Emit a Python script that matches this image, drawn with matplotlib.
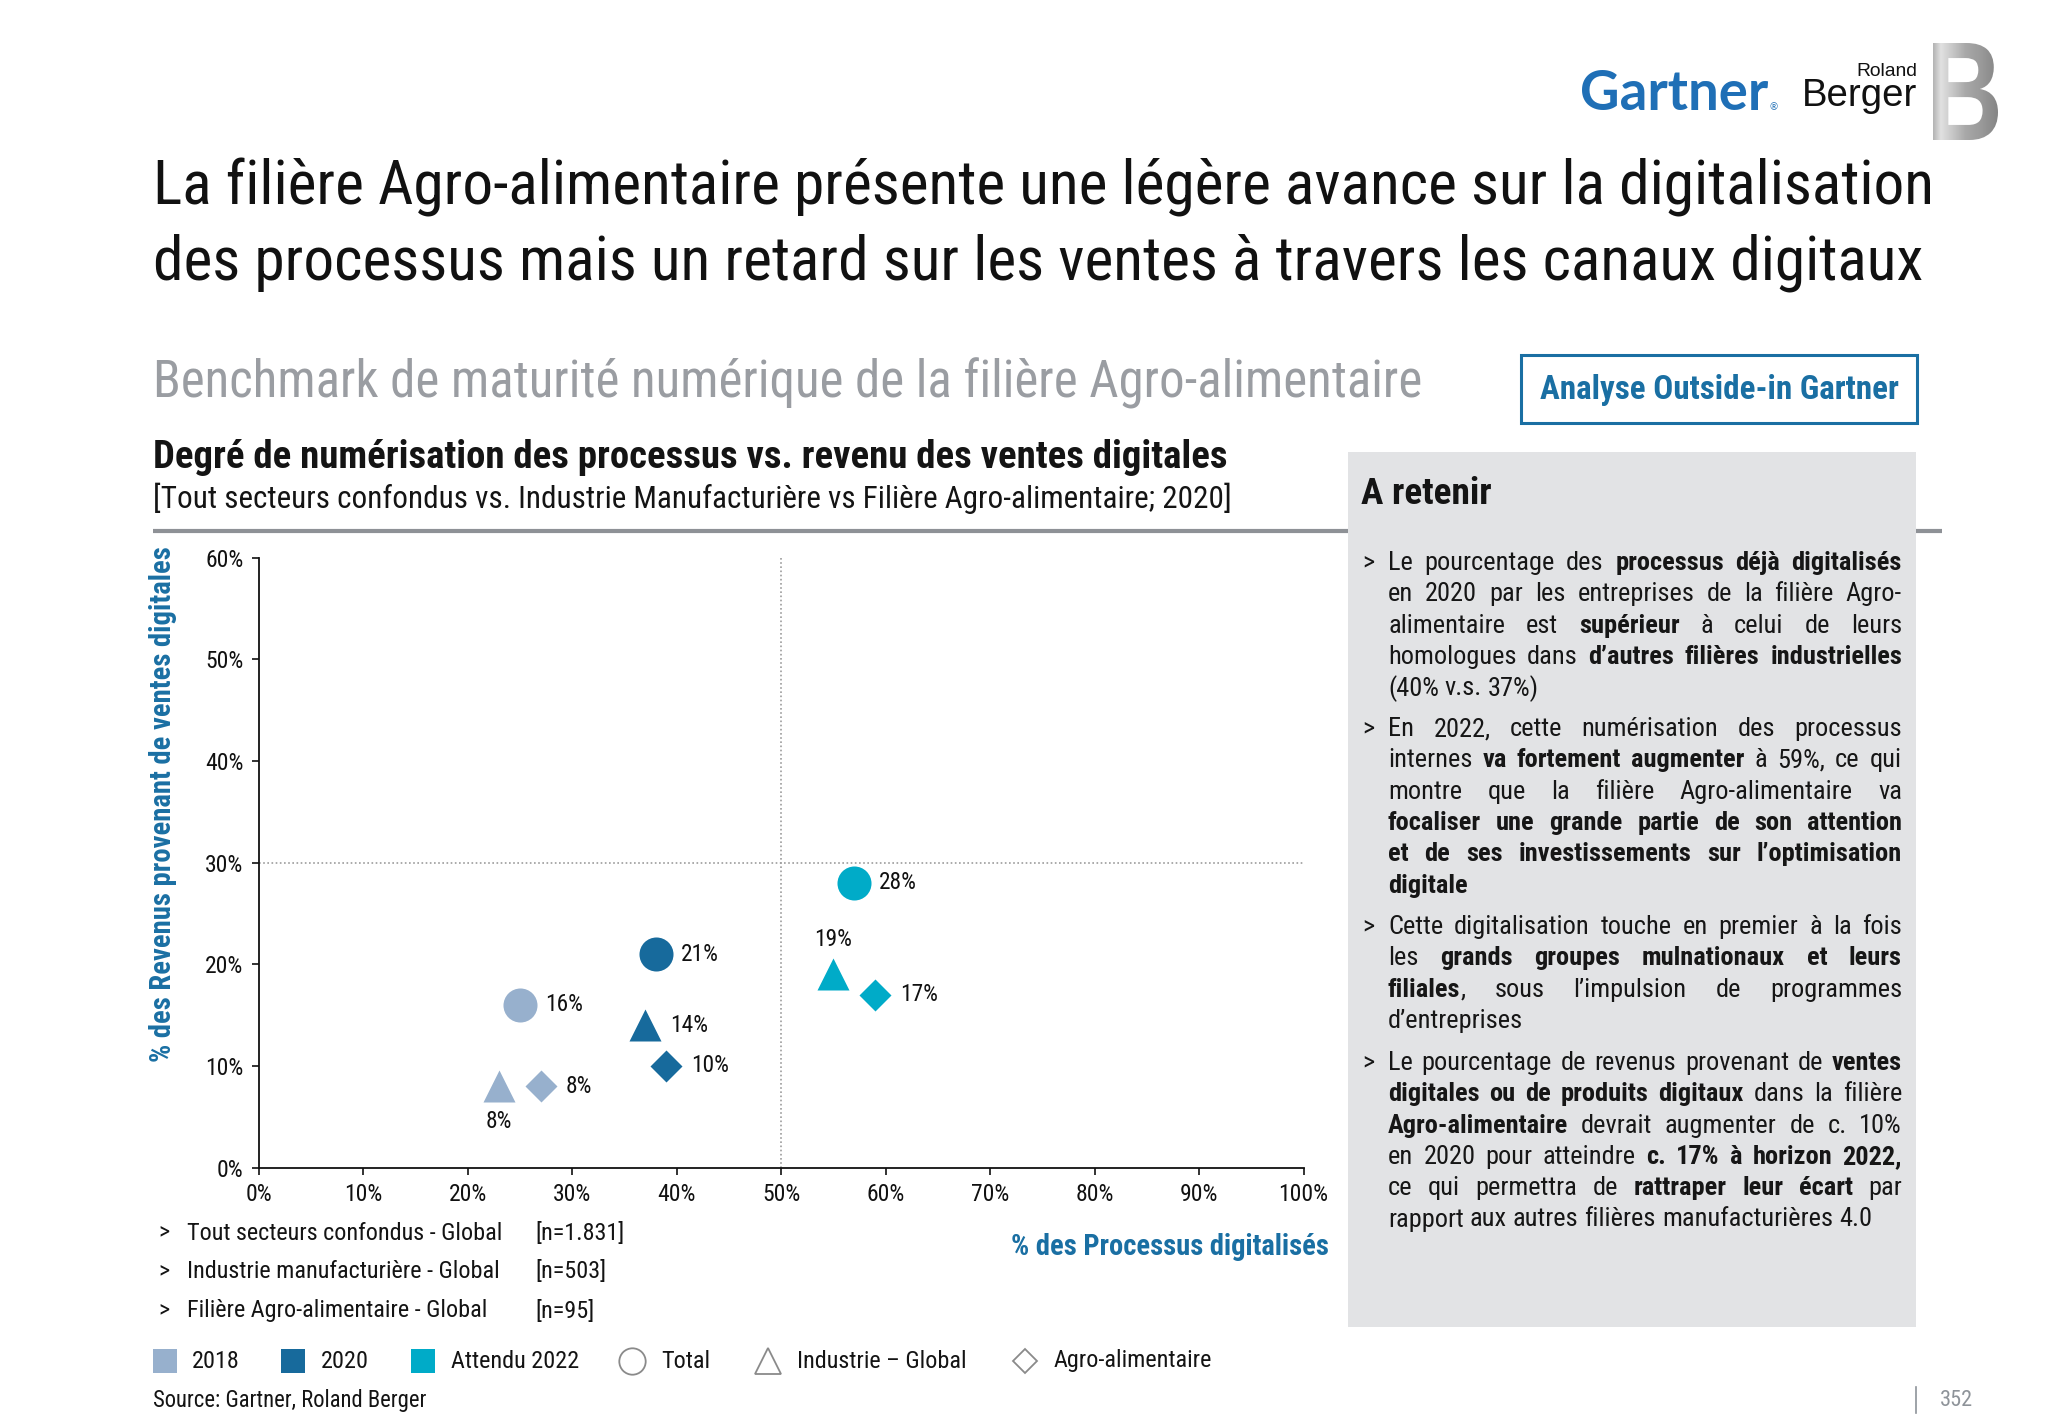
import numpy as np
import matplotlib
matplotlib.use('Agg')
import matplotlib.pyplot as plt
from matplotlib import font_manager as fm
from matplotlib.patches import Rectangle, PathPatch
from matplotlib.textpath import TextPath
from matplotlib.font_manager import FontProperties
from matplotlib.transforms import Affine2D

W, H = 2048, 1418

# ---- data ----
years = ['2018', '2020', 'Attendu 2022']
year_colors = ['#97B0CD', '#176A9C', '#00ABC8']
total_x = [25, 38, 57]
total_y = [16, 21, 28]
indus_x = [23, 37, 55]
indus_y = [8, 14, 19]
agro_x = [27, 39, 59]
agro_y = [8, 10, 17]
x_ticks = [0, 10, 20, 30, 40, 50, 60, 70, 80, 90, 100]
y_ticks = [0, 10, 20, 30, 40, 50, 60]
samples = ['Tout secteurs confondus - Global', 'Industrie manufacturière - Global',
           'Filière Agro-alimentaire - Global']
sample_n = ['[n=1.831]', '[n=503]', '[n=95]']
shape_names = ['Total', 'Industrie – Global', 'Agro-alimentaire']

title_lines = ['La filière Agro-alimentaire présente une légère avance sur la digitalisation',
               'des processus mais un retard sur les ventes à travers les canaux digitaux']
subtitle = 'Benchmark de maturité numérique de la filière Agro-alimentaire'
chart_title = 'Degré de numérisation des processus vs. revenu des ventes digitales'
chart_sub = '[Tout secteurs confondus vs. Industrie Manufacturière vs Filière Agro-alimentaire; 2020]'

bullets = [
    ['Le pourcentage des **processus déjà digitalisés**',
     'en 2020 par les entreprises de la filière Agro-',
     'alimentaire est **supérieur** à celui de leurs',
     'homologues dans **d’autres filières industrielles**',
     '(40% v.s. 37%)'],
    ['En 2022, cette numérisation des processus',
     'internes **va fortement augmenter** à 59%, ce qui',
     'montre que la filière Agro-alimentaire va',
     '**focaliser une grande partie de son attention**',
     '**et de ses investissements sur l’optimisation**',
     '**digitale**'],
    ['Cette digitalisation touche en premier à la fois',
     'les **grands groupes mulnationaux et leurs**',
     '**filiales**, sous l’impulsion de programmes',
     'd’entreprises'],
    ['Le pourcentage de revenus provenant de **ventes**',
     '**digitales ou de produits digitaux** dans la filière',
     '**Agro-alimentaire** devrait augmenter de c. 10%',
     'en 2020 pour atteindre **c. 17% à horizon 2022,**',
     'ce qui permettra de **rattraper leur écart** par',
     'rapport aux autres filières manufacturières 4.0'],
]

# ---- fonts: a narrow sans close to Arial Narrow ----
weights = {}
for f in fm.fontManager.ttflist:
    weights.setdefault(f.name, set()).add(f.weight)
FONT = 'Liberation Sans'
for cand in ['Arial Narrow', 'Liberation Sans Narrow', 'Roboto Condensed',
             'Pragati Narrow', 'PT Sans Narrow', 'Archivo Narrow']:
    ws = weights.get(cand, set())
    if any(w == 400 or w == 'normal' for w in ws) and any(w in (700, 'bold') for w in ws):
        FONT = cand
        break

INK = '#141414'
BLUE = '#1A6FA3'

fig = plt.figure(figsize=(W / 100, H / 100), dpi=100)
page = fig.add_axes([0, 0, 1, 1])
page.set_xlim(0, W)
page.set_ylim(H, 0)
page.set_autoscale_on(False)
page.axis('off')
R = fig.canvas.get_renderer()


def text_w(s, size, bold=False, family=None):
    t = page.text(0, 0, s, fontsize=size, fontweight='bold' if bold else 'normal',
                  family=family or FONT)
    w = t.get_window_extent(R).width
    t.remove()
    return w


def fit(s, width, bold=False, family=None):
    return 20 * width / text_w(s, 20, bold, family)


def put(x, y, s, size, bold=False, color=INK, ha='left', family=None, **kw):
    return page.text(x, y, s, fontsize=size, fontweight='bold' if bold else 'normal',
                     color=color, ha=ha, va='center', family=family or FONT, **kw)


# ---- header ----
ts = fit(title_lines[0], 1778)
put(153, 187, title_lines[0], ts, color='#111111')
put(153, 263, title_lines[1], ts, color='#111111')

put(153, 383, subtitle, fit(subtitle, 1268), color='#9A9DA2')

page.add_patch(Rectangle((1521, 355), 396, 68, fc='white', ec=BLUE, lw=2.2, zorder=2))
put(1719, 390, 'Analyse Outside-in Gartner', fit('Analyse Outside-in Gartner', 359, True),
    bold=True, color=BLUE, ha='center', zorder=3)

put(153, 457, chart_title, fit(chart_title, 1068, True), bold=True)
put(153, 498, chart_sub, fit(chart_sub, 1077))

page.plot([153, 1942], [531, 531], color='#8E9196', lw=3, solid_capstyle='butt', zorder=1)

# logos
put(1580, 94, 'Gartner', fit('Gartner', 188, True, 'Lato'), bold=True, color='#1F6FB6',
    family='Lato')
put(1770, 108, '®', 7, color='#1F6FB6', family='Lato')
put(1917, 72, 'Roland', fit('Roland', 61, family='Liberation Sans'), ha='right',
    color='#111111', family='Liberation Sans')
put(1917, 96, 'Berger', fit('Berger', 115, family='Liberation Sans'), ha='right',
    color='#111111', family='Liberation Sans')

tp = TextPath((0, 0), 'B', size=100, prop=FontProperties(family='Liberation Sans', weight='bold'))
ext = tp.get_extents()
bx0, by0, bx1, by1 = 1933, 43, 1998, 140
tr = Affine2D().translate(-ext.x0, -ext.y0).scale((bx1 - bx0) / ext.width,
                                                    -(by1 - by0) / ext.height).translate(bx0, by1)
bpatch = PathPatch(tr.transform_path(tp), fc='none', ec='none', transform=page.transData)
page.add_patch(bpatch)
grad = np.interp(np.linspace(0, 1, 200), [0, 0.12, 0.3, 0.5, 0.75, 1],
                 [0.70, 0.88, 0.78, 0.66, 0.60, 0.52])
img = page.imshow(grad[None, :], cmap='gray', vmin=0, vmax=1, aspect='auto',
                  extent=[bx0, bx1, by1, by0], zorder=2)
img.set_clip_path(bpatch)
page.set_xlim(0, W)
page.set_ylim(H, 0)

# ---- right panel ----
page.add_patch(Rectangle((1348, 452), 568, 875, fc='#E2E3E5', ec='none', zorder=2))
put(1361, 494, 'A retenir', fit('A retenir', 130, True), bold=True, zorder=3)

BX0, BX1 = 1388, 1902
bs = fit(bullets[3][-1], 482)
space_w = text_w('a a', bs) - text_w('aa', bs)


def parse(line):
    words, bold = [], False
    for raw in line.split(' '):
        runs = []
        for i, p in enumerate(raw.split('**')):
            if i > 0:
                bold = not bold
            if p:
                runs.append((p, bold))
        if runs:
            words.append(runs)
    return words


def body_line(line, y, justify):
    items, total = [], 0
    for runs in parse(line):
        arts = []
        for s, b in runs:
            t = put(0, y, s, bs, bold=b, color='#161616', zorder=3)
            w = t.get_window_extent(R).width
            arts.append((t, w))
            total += w
        items.append(arts)
    gap = space_w
    if justify and len(items) > 1:
        gap = max((BX1 - BX0 - total) / (len(items) - 1), space_w * 0.6)
    x = BX0
    for arts in items:
        for t, w in arts:
            t.set_x(x)
            x += w
        x += gap


LINE = 31.3
starts = [563, 729, 927, 1063]
for para, y0 in zip(bullets, starts):
    put(1362, y0, '>', bs, color='#161616', zorder=3)
    for k, line in enumerate(para):
        body_line(line, y0 + k * LINE, k < len(para) - 1)

# ---- chart ----
ax = fig.add_axes([258.6 / W, 1 - 1167.6 / H, (1303.6 - 258.6) / W, (1167.6 - 557.7) / H])
ax.patch.set_alpha(0)
ax.set_xlim(0, 100)
ax.set_ylim(0, 60)
for s in ['top', 'right']:
    ax.spines[s].set_visible(False)
for s in ['left', 'bottom']:
    ax.spines[s].set_linewidth(1.3)
    ax.spines[s].set_color('#111111')
tick_size = fit('100%', 50)
ax.set_xticks(x_ticks)
ax.set_xticklabels([f'{v}%' for v in x_ticks])
ax.set_yticks(y_ticks)
ax.set_yticklabels([f'{v}%' for v in y_ticks])
ax.tick_params(length=5, width=1.2, pad=6, labelsize=tick_size, colors='#111111')
for lab in ax.get_xticklabels() + ax.get_yticklabels():
    lab.set_family(FONT)

ax.axvline(50, color='#9C9C9C', ls=(0, (1, 1.5)), lw=1.2, zorder=1)
ax.axhline(30, color='#9C9C9C', ls=(0, (1, 1.5)), lw=1.2, zorder=1)

lab_size = fit('28%', 38)
series = [(total_x, total_y, 'o', 24.5, ['r', 'r', 'r']),
          (indus_x, indus_y, '^', 23.5, ['b', 'r', 't']),
          (agro_x, agro_y, 'D', 16.8, ['r', 'r', 'r'])]
for xs, ys, mk, ms, places in series:
    for i in range(3):
        ax.plot(xs[i], ys[i], mk, ms=ms, color=year_colors[i], mec='none', zorder=3)
        if places[i] == 'r':
            off, ha, va = (18, 0), 'left', 'center'
        elif places[i] == 'b':
            off, ha, va = (0, -25), 'center', 'center'
        else:
            off, ha, va = (0, 25), 'center', 'center'
        ax.annotate(f'{ys[i]}%', (xs[i], ys[i]), xytext=off, textcoords='offset points',
                    ha=ha, va=va, fontsize=lab_size, family=FONT, color='#111111')

ylab = '% des Revenus provenant de ventes digitales'
page.text(163, 546, ylab, rotation=90, ha='center', va='top', fontsize=fit(ylab, 512, True),
          fontweight='bold', color=BLUE, family=FONT)
xlab = '% des Processus digitalisés'
put(1329, 1247, xlab, fit(xlab, 316, True), bold=True, color=BLUE, ha='right')

# ---- sample lines and legend ----
ls = fit(samples[0], 315)
for k, (s, n) in enumerate(zip(samples, sample_n)):
    y = 1233 + k * 39
    put(158, y, '>', ls)
    put(187, y, s, ls)
    put(535, y, n, ls)

ly = 1361
sq_x = [153, 281, 411]
tx_x = [192, 321, 451]
for c, x, tx, name in zip(year_colors, sq_x, tx_x, years):
    page.add_patch(Rectangle((x, ly - 12), 24, 24, fc=c, ec='none'))
    put(tx, ly, name, ls)
shp_x = [632, 768, 1025]
shp_tx = [661, 797, 1054]
for (mk, ms), x, tx, name in zip([('o', 19), ('^', 19), ('D', 12)], shp_x, shp_tx, shape_names):
    page.plot(x, ly, mk, ms=ms, mfc='white', mec='#8A8A8A', mew=1.3)
    put(tx, ly, name, ls)

put(153, 1400, 'Source: Gartner, Roland Berger', fit('Source: Gartner, Roland Berger', 273))
page.plot([1916, 1916], [1387, 1413], color='#8E9399', lw=1.2)
put(1940, 1400, '352', fit('352', 33), color='#8E9399')

fig.savefig('out.png', dpi=100)
